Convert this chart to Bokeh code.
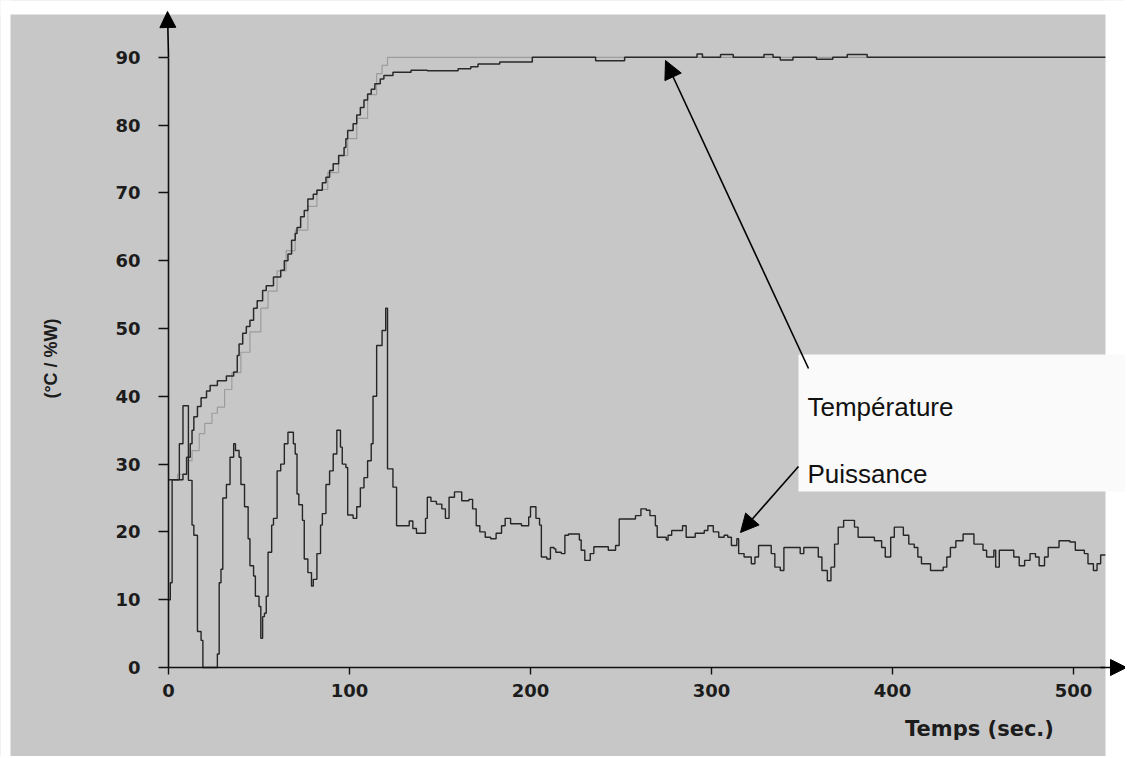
from math import pi
from bokeh.plotting import figure
from bokeh.models import (Range1d, Label, Arrow, NormalHead, BoxAnnotation,
                          LinearAxis, FixedTicker)
from bokeh.embed import file_html
from bokeh.resources import INLINE

# ---------------- data ----------------
power_t = [0, 1, 2, 6, 8, 11, 13, 14, 16, 18, 19, 26, 27, 28, 29, 30, 32, 34, 36, 37,
           39, 40, 42, 44, 45, 47, 48, 50, 51, 52, 53, 54, 55, 57, 58, 60, 62, 64, 66, 69,
           70, 71, 72, 74, 75, 77, 79, 80, 82, 84, 85, 87, 89, 91, 93, 95, 96, 98, 99, 102,
           104, 106, 108, 110, 112, 113, 115, 118, 120, 121, 124, 126, 133, 135, 137, 142, 143, 145, 148, 151,
           153, 155, 158, 162, 166, 168, 170, 172, 175, 178, 181, 184, 186, 189, 195, 199, 200, 203, 205, 206,
           209, 211, 213, 214, 217, 219, 221, 227, 228, 230, 233, 235, 243, 247, 249, 258, 261, 264, 266, 269,
           270, 275, 276, 278, 284, 286, 291, 296, 298, 301, 304, 307, 309, 311, 314, 315, 318, 322, 324, 326,
           333, 335, 338, 340, 349, 351, 359, 361, 364, 366, 368, 370, 373, 379, 381, 390, 394, 396, 399, 401,
           406, 409, 412, 414, 416, 421, 428, 430, 432, 435, 439, 445, 450, 452, 456, 457, 459, 467, 470, 473,
           476, 479, 481, 484, 486, 492, 498, 501, 506, 508, 511, 513, 515, 518]
power_v = [10, 12.5, 27.7, 33, 38.6, 27.6, 21, 19.5, 5.3, 4, 0, 0, 2, 12.5, 14.5, 25, 27, 31, 33, 32,
           31, 27, 23.7, 19, 15, 13.5, 10.5, 9, 4.3, 7.5, 8, 10.5, 17, 21, 22, 29, 30, 33, 34.7, 33,
           31.5, 25.6, 24, 21.7, 16, 14, 12, 13, 16.8, 21, 22.7, 27, 29, 31.5, 35, 32.5, 30, 29.5, 22.5, 22,
           23.7, 26.5, 28, 30.5, 33, 40, 47.5, 49.7, 53, 29.3, 26.6, 20.9, 21.6, 20.5, 19.8, 22, 25.1, 24.5, 24.1, 23.4,
           22, 25.1, 25.9, 24.6, 24.8, 23.4, 20.9, 20, 19.2, 19, 19.8, 20.9, 22, 21.2, 20.9, 22.2, 23.7, 22, 21, 16.3,
           16, 17.7, 17.5, 17, 16.8, 19.5, 19.7, 18.8, 17.3, 15.8, 16.8, 17.8, 17.3, 18, 21.9, 22.4, 23.4, 23.2, 22.4, 20.9,
           19.2, 18.8, 19.5, 20.2, 20.9, 19.2, 19.8, 20.2, 20.9, 20, 19.2, 19.5, 19.2, 18, 19, 16.8, 16.3, 15.3, 16.3, 18,
           16.8, 14.8, 14.3, 17.7, 16.8, 17.7, 16.3, 14.3, 12.8, 14.8, 18.2, 20.7, 21.7, 20.7, 19.2, 18.7, 17.7, 16.3, 19.2, 20.7,
           19.5, 18.2, 17.7, 16.3, 15.3, 14.3, 14.8, 16.3, 17.7, 18.7, 19.7, 18.2, 17.3, 16.3, 17.3, 14.8, 17.3, 16.3, 15, 15.8,
           16.8, 16.3, 15, 16.3, 17.7, 18.7, 18.5, 17.3, 16.8, 15.3, 14.3, 15.3, 16.6, 16.6]

temp_t = [0, 8, 10, 12, 13, 14, 16, 18, 21, 23, 27, 32, 36, 38, 39, 41, 43, 45, 47, 49,
          52, 54, 58, 62, 64, 66, 68, 70, 71, 73, 75, 77, 80, 82, 85, 87, 89, 91, 94, 97,
          98, 99, 102, 104, 106, 108, 110, 112, 114, 117, 119, 124, 134, 143, 160, 167, 171, 183, 201, 228,
          236, 252, 292, 295, 305, 312, 329, 334, 338, 345, 358, 367, 375, 386, 518]
temp_v = [27.7, 28.5, 31, 33, 35, 37, 38.5, 39.8, 40.8, 41.6, 42.3, 43, 43.6, 46, 47.7, 49.3, 50.3, 51.2, 53, 54.1,
          55.6, 56.3, 57.6, 58.6, 60, 61, 63, 64, 64.9, 66.5, 67.4, 69.1, 69.8, 70.4, 71.5, 72.3, 73.3, 74.3, 75.5, 76.7,
          78, 79.2, 80.2, 81.5, 82.6, 83.7, 84.6, 85.3, 86.1, 86.8, 87.3, 87.8, 88.1, 88, 88.3, 88.6, 89, 89.3, 90, 90,
          89.5, 90, 90.5, 90, 90.4, 90, 90.4, 90, 89.6, 90, 89.7, 90, 90.4, 90, 90]

setp_t = [0, 5, 10, 13, 17, 20, 24, 27, 31, 35, 40, 45, 51, 55, 60, 65, 70, 77, 82, 88,
          94, 99, 104, 110, 115, 118, 121, 518]
setp_v = [27.7, 28.5, 30.5, 32, 34.5, 36, 37.5, 38.4, 41, 43.5, 46.5, 49.5, 53, 55.5, 58.5, 61.5, 64.5, 68, 70.5, 73,
          75.5, 78, 81, 84.5, 87.6, 88.8, 90, 90]

x_ticks = [0, 100, 200, 300, 400, 500]
y_ticks = [0, 10, 20, 30, 40, 50, 60, 70, 80, 90]
x_label = "Temps (sec.)"
y_label = "(°C / %W)"
lbl_temp = "Température"
lbl_puis = "Puissance"

# ---------------- layout helpers (image pixel -> data) ----------------
W, H = 1125, 756
def dx(px):
    return (px - 168) / 1.81
def dy(py):
    return (667 - py) / 6.78

GRAY = "#c7c7c7"

p = figure(width=W, height=H, output_backend="svg", toolbar_location=None,
           x_range=Range1d(dx(0), dx(W)), y_range=Range1d(dy(H), dy(0)),
           x_axis_type=None, y_axis_type=None,
           min_border=0, min_border_left=0, min_border_right=0,
           min_border_top=0, min_border_bottom=0)
p.background_fill_color = GRAY
p.border_fill_color = "white"
p.outline_line_color = None

# lines
p.step(setp_t, setp_v, mode="after", line_color="#9c9c9c", line_width=1.2)
p.step(temp_t, temp_v, mode="after", line_color="#2a2a2a", line_width=1.5)
p.step(power_t, power_v, mode="after", line_color="#262626", line_width=1.4)

# axes
tick_font = "DejaVu Sans"
xaxis = LinearAxis(fixed_location=0, bounds=(0, dx(1105)),
                   ticker=FixedTicker(ticks=x_ticks))
yaxis = LinearAxis(fixed_location=0, bounds=(0, 90),
                   ticker=FixedTicker(ticks=y_ticks))
for ax, tout, st in ((xaxis, 7, 9), (yaxis, 10, 18)):
    ax.axis_line_color = "#111111"
    ax.axis_line_width = 1.6
    ax.major_tick_line_color = "#111111"
    ax.major_tick_line_width = 1.4
    ax.major_tick_out = tout
    ax.major_tick_in = 0
    ax.minor_tick_line_color = None
    ax.major_label_text_font = tick_font
    ax.major_label_text_font_style = "bold"
    ax.major_label_text_font_size = "18px"
    ax.major_label_text_color = "#1c1c1c"
    ax.major_label_standoff = st
p.add_layout(xaxis, "below")
p.add_layout(yaxis, "left")

# white margins outside the gray area
p.add_layout(BoxAnnotation(left=dx(1105), right=dx(1140), bottom=dy(800), top=dy(-10),
                           fill_color="white", fill_alpha=1, line_color=None))
p.add_layout(BoxAnnotation(left=dx(-10), right=dx(1140), bottom=dy(14), top=dy(-10),
                           fill_color="white", fill_alpha=1, line_color=None))
p.add_layout(BoxAnnotation(left=dx(-10), right=dx(10), bottom=dy(800), top=dy(-10),
                           fill_color="white", fill_alpha=1, line_color=None))

# axis arrows
p.add_layout(Arrow(end=NormalHead(size=16, fill_color="black", line_color="black"),
                   x_start=dx(1100), y_start=0, x_end=dx(1126), y_end=0,
                   line_color="black", line_width=1.6))
p.add_layout(Arrow(end=NormalHead(size=16, fill_color="black", line_color="black"),
                   x_start=0, y_start=90, x_end=dx(167), y_end=dy(11),
                   line_color="black", line_width=1.6))

# axis titles
p.add_layout(Label(x=dx(979), y=dy(728), text=x_label, text_font=tick_font,
                   text_font_style="bold", text_font_size="21px", text_color="#1c1c1c",
                   text_align="center", text_baseline="middle"))
p.add_layout(Label(x=dx(50), y=dy(358), text=y_label, text_font="Liberation Sans",
                   text_font_style="bold", text_font_size="18px", text_color="#1c1c1c",
                   angle=pi / 2, text_align="center", text_baseline="middle"))

# annotation box
p.add_layout(BoxAnnotation(left=dx(798), right=dx(1140), top=dy(354), bottom=dy(491),
                           fill_color="#fafafa", fill_alpha=1, line_color=None))
p.add_layout(Label(x=dx(807), y=dy(406), text=lbl_temp, text_font="Liberation Sans",
                   text_font_size="26px", text_color="#111111",
                   text_align="left", text_baseline="alphabetic"))
p.add_layout(Label(x=dx(807), y=dy(473), text=lbl_puis, text_font="Liberation Sans",
                   text_font_size="26px", text_color="#111111",
                   text_align="left", text_baseline="alphabetic"))

# pointer arrows
p.add_layout(Arrow(end=NormalHead(size=18, fill_color="black", line_color="black"),
                   x_start=dx(808), y_start=dy(368), x_end=dx(665), y_end=dy(60),
                   line_color="black", line_width=1.6))
p.add_layout(Arrow(end=NormalHead(size=18, fill_color="black", line_color="black"),
                   x_start=dx(798), y_start=dy(466), x_end=dx(740), y_end=dy(532),
                   line_color="black", line_width=1.6))

open("out.html", "w").write(file_html(p, INLINE))
